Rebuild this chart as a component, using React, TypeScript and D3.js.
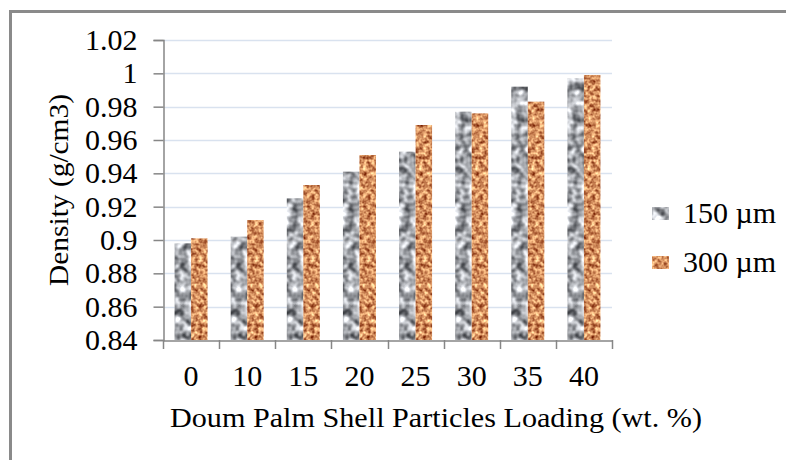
import { useEffect, useRef } from "react";
import * as d3 from "d3";

const loadings = ["0", "10", "15", "20", "25", "30", "35", "40"];
const series = ["150 µm", "300 µm"];
const density150 = [0.898, 0.902, 0.925, 0.941, 0.953, 0.977, 0.992, 0.997];
const density300 = [0.901, 0.912, 0.933, 0.951, 0.969, 0.976, 0.983, 0.999];
const yTicks = [0.84, 0.86, 0.88, 0.9, 0.92, 0.94, 0.96, 0.98, 1, 1.02];

export default function App() {
  const svgRef = useRef<SVGSVGElement | null>(null);

  useEffect(() => {
    document.body.style.margin = "0";
    document.body.style.overflow = "hidden";

    const width = 786;
    const height = 460;
    const margin = { top: 40, right: 174, bottom: 120, left: 163 };
    const font = "Liberation Serif, Times New Roman, serif";

    const svg = d3.select(svgRef.current).attr("width", width).attr("height", height);
    svg.selectAll("*").remove();

    // textures for the bars (granite grey, cork orange)
    const defs = svg.append("defs");
    const texture = (id: string, freq: number, seed: number, matrix: string) => {
      const f = defs
        .append("filter")
        .attr("id", id)
        .attr("x", 0)
        .attr("y", 0)
        .attr("width", 1)
        .attr("height", 1)
        .attr("color-interpolation-filters", "sRGB");
      f.append("feTurbulence")
        .attr("type", "fractalNoise")
        .attr("baseFrequency", freq)
        .attr("numOctaves", 2)
        .attr("seed", seed)
        .attr("result", "noise");
      f.append("feColorMatrix").attr("in", "noise").attr("type", "matrix").attr("values", matrix).attr("result", "col");
      f.append("feComposite").attr("in", "col").attr("in2", "SourceGraphic").attr("operator", "in");
    };
    texture("granite", 0.12, 3, "1.4 0 0 0 -0.04  1.4 0 0 0 -0.03  1.4 0 0 0 -0.01  0 0 0 0 1");
    texture("cork", 0.25, 7, "1.0 0 0 0 0.33  1.2 0 0 0 -0.04  1.0 0 0 0 -0.13  0 0 0 0 1");
    const fills = ["granite", "cork"];
    const bases = ["#b3b5b8", "#c98d57"];

    // outer frame (top and left only)
    svg.append("rect").attr("width", width).attr("height", height).attr("fill", "#fff");
    svg.append("line").attr("x1", 9).attr("x2", width).attr("y1", 11.5).attr("y2", 11.5)
      .attr("stroke", "#8a8a8a").attr("stroke-width", 3);
    svg.append("line").attr("x1", 10.5).attr("x2", 10.5).attr("y1", 10).attr("y2", height)
      .attr("stroke", "#8a8a8a").attr("stroke-width", 3);

    const x = d3.scaleBand().domain(loadings).range([margin.left, width - margin.right]).padding(0);
    const xs = d3.scaleBand().domain(series).range([0, x.bandwidth()]).paddingInner(0).paddingOuter(0.7);
    const y = d3.scaleLinear().domain([0.84, 1.02]).range([height - margin.bottom, margin.top]);

    // gridlines
    svg.append("g")
      .selectAll("line")
      .data(yTicks.slice(1))
      .join("line")
      .attr("x1", margin.left)
      .attr("x2", width - margin.right)
      .attr("y1", d => Math.round(y(d)) + 0.5)
      .attr("y2", d => Math.round(y(d)) + 0.5)
      .attr("stroke", "#d9e2ef")
      .attr("stroke-width", 1.5);

    // bars
    const rows = loadings.map((c, i) => ({ c, vals: [density150[i], density300[i]] }));
    const groups = svg.append("g").selectAll("g").data(rows).join("g")
      .attr("transform", d => `translate(${x(d.c)},0)`);
    groups
      .selectAll("rect")
      .data(d => d.vals.map((v, j) => ({ v, j })))
      .join("rect")
      .attr("x", d => xs(series[d.j])!)
      .attr("y", d => y(d.v))
      .attr("width", xs.bandwidth())
      .attr("height", d => y(0.84) - y(d.v))
      .attr("fill", d => bases[d.j])
      .attr("filter", d => `url(#${fills[d.j]})`);

    // y axis
    const yAxis = svg.append("g")
      .attr("transform", `translate(${margin.left + 0.5},0)`)
      .call(
        d3.axisLeft(y)
          .tickValues(yTicks)
          .tickSize(10)
          .tickPadding(16)
          .tickFormat(d => String(+(+d).toFixed(2)))
      );
    yAxis.selectAll("path, line").attr("stroke", "#868686").attr("stroke-width", 1.5);
    yAxis.selectAll("text").attr("font-family", font).attr("font-size", 30).attr("fill", "#000");

    // x axis labels
    const xAxis = svg.append("g")
      .attr("transform", `translate(0,${height - margin.bottom + 0.5})`)
      .call(d3.axisBottom(x).tickSize(0).tickPadding(24));
    xAxis.select(".domain").attr("stroke", "#868686").attr("stroke-width", 1.5);
    xAxis.selectAll("text").attr("font-family", font).attr("font-size", 30).attr("fill", "#000");

    // x category boundary ticks
    const bounds = [...loadings.map(c => x(c)!), x.range()[1]];
    svg.append("g")
      .selectAll("line")
      .data(bounds)
      .join("line")
      .attr("x1", d => Math.round(d) + 0.5)
      .attr("x2", d => Math.round(d) + 0.5)
      .attr("y1", y(0.84))
      .attr("y2", y(0.84) + 9)
      .attr("stroke", "#868686")
      .attr("stroke-width", 1.5);

    // axis titles
    svg.append("text")
      .attr("x", 436)
      .attr("y", 427)
      .attr("text-anchor", "middle")
      .attr("font-family", font)
      .attr("font-size", 28)
      .attr("textLength", 532)
      .attr("lengthAdjust", "spacingAndGlyphs")
      .text("Doum Palm Shell Particles Loading (wt. %)");

    svg.append("text")
      .attr("transform", `translate(68,${(y(0.84) + y(1.02)) / 2}) rotate(-90)`)
      .attr("text-anchor", "middle")
      .attr("font-family", font)
      .attr("font-size", 28)
      .attr("textLength", 192)
      .attr("lengthAdjust", "spacingAndGlyphs")
      .text("Density (g/cm3)");

    // legend
    const legend = svg.append("g").attr("transform", "translate(652,207)");
    const item = legend.selectAll("g").data(series).join("g")
      .attr("transform", (_, i) => `translate(0,${i * 49})`);
    item.append("rect")
      .attr("width", 17)
      .attr("height", 13)
      .attr("fill", (_, i) => bases[i])
      .attr("filter", (_, i) => `url(#${fills[i]})`);
    item.append("text")
      .attr("x", 31)
      .attr("y", 16)
      .attr("font-family", font)
      .attr("font-size", 30)
      .text(d => d);
  }, []);

  return (
    <svg ref={svgRef} style={{ position: "absolute", left: 0, top: 0, display: "block" }}></svg>
  );
}
